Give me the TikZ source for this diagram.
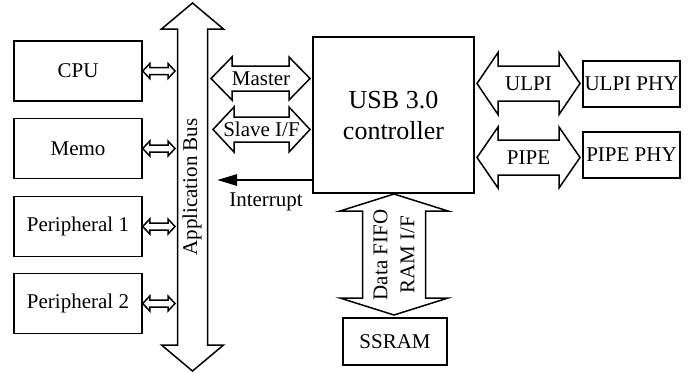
\documentclass[tikz,border=0pt]{standalone}
\usepackage{fontspec}
\setmainfont{Liberation Serif}
\usetikzlibrary{calc,arrows.meta}
\tikzstyle{box}=[draw,line width=0.75pt,inner sep=0pt,font=\fontsize{10.5}{12.6}\selectfont]
\tikzstyle{fat}=[draw,line width=0.75pt,fill=white,line join=miter]
\tikzstyle{lbl}=[inner sep=0pt,font=\fontsize{10.5}{13.5}\selectfont]
% fat double arrow: start, end, shaft half width, head half width, head length
\newcommand{\fatarrow}[5]{%
\draw[fat] (#1) -- ($(#1)!#5!(#2)!#4!90:(#2)$) -- ($(#1)!#5!(#2)!#3!90:(#2)$)
 -- ($(#2)!#5!(#1)!#3!-90:(#1)$) -- ($(#2)!#5!(#1)!#4!-90:(#1)$) -- (#2)
 -- ($(#2)!#5!(#1)!#4!90:(#1)$) -- ($(#2)!#5!(#1)!#3!90:(#1)$)
 -- ($(#1)!#5!(#2)!#3!-90:(#2)$) -- ($(#1)!#5!(#2)!#4!-90:(#2)$) -- cycle;}

\begin{document}
\begin{tikzpicture}[x=0.5pt,y=-0.5pt]
\useasboundingbox (0,0) rectangle (688,372);
\node[box,minimum width=64pt,minimum height=30pt] (cpu) at (78,71) {CPU};
\node[box,minimum width=64pt,minimum height=30pt] (memo) at (78,148.5) {Memo};
\node[box,minimum width=64pt,minimum height=30pt] (per1) at (78,226.5) {Peripheral 1};
\node[box,minimum width=64pt,minimum height=30pt] (per2) at (78,303.5) {Peripheral 2};
\node[box,minimum width=80.5pt,minimum height=78pt,align=center,font=\fontsize{13}{15.5}\selectfont] (ctrl) at (393.5,115) {USB 3.0\\controller};
\node[box,minimum width=48.5pt,minimum height=23pt] (ulpiphy) at (631.5,84) {ULPI PHY};
\node[box,minimum width=48.5pt,minimum height=23pt] (pipephy) at (631.5,155) {PIPE PHY};
\node[box,minimum width=52pt,minimum height=23.5pt] (ssram) at (395,341.5) {SSRAM};
% application bus
\coordinate (bustop) at (192.5,3);
\coordinate (busbot) at (192.5,371);
\coordinate (busL) at (175,0);
\fatarrow{bustop}{busbot}{7.5pt}{15.5pt}{13pt}
\node[lbl,rotate=90] (buslbl) at (192,187) {Application Bus};
\foreach \n in {cpu,memo,per1,per2}{
  \coordinate (\n B) at (\n.east -| busL);
  \fatarrow{\n.east}{\n B}{1.75pt}{3.75pt}{3.5pt}
}
% master / slave
\coordinate (mstL) at (211,78.5);
\coordinate (mstR) at (310,78.5);
\coordinate (slvL) at (213,129.5);
\coordinate (slvR) at (310,129.5);
\fatarrow{mstL}{mstR}{6.25pt}{10.75pt}{10.5pt}
\fatarrow{slvL}{slvR}{6.25pt}{11.25pt}{10.5pt}
\node[lbl] (mst) at (261,78.5) {Master};
\node[lbl] (slv) at (261.5,129.5) {Slave I/F};
% interrupt
\coordinate (intS) at (ctrl.west |- 0,180);
\coordinate (intE) at (217,180);
\draw[line width=1.3pt,-{Triangle[length=10pt,width=5.5pt]}] (intS) -- (intE);
\node[lbl] (intlbl) at (266,202) {Interrupt};
% phy interfaces
\coordinate (ulpiL) at (477,83.5);
\coordinate (ulpiR) at (580,83.5);
\coordinate (pipeL) at (477,157.5);
\coordinate (pipeR) at (580,157.5);
\fatarrow{ulpiL}{ulpiR}{8.75pt}{15.5pt}{10.5pt}
\fatarrow{pipeL}{pipeR}{8.75pt}{15.25pt}{10.5pt}
\node[lbl] (ulpi) at (528.5,83.5) {ULPI};
\node[lbl] (pipe) at (528.5,157.5) {PIPE};
% data fifo
\coordinate (fifoT) at (394,194);
\coordinate (fifoB) at (394,315);
\fatarrow{fifoT}{fifoB}{15.75pt}{27pt}{8.5pt}
\node[lbl,rotate=90,align=center] (fifo) at (394,255) {Data FIFO\\RAM I/F};
\end{tikzpicture}
\end{document}
